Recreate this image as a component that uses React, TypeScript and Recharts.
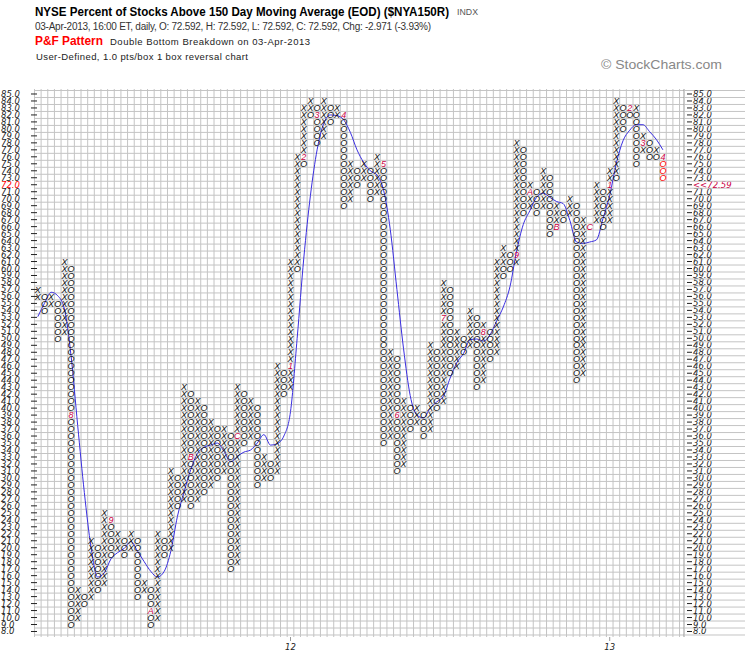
import React from "react";
import { ComposedChart, XAxis, YAxis, Scatter, Line, ReferenceLine } from "recharts";

// P&F runs: column index, X/O, low box, high box (a column can hold two runs)
const colIdx = [
  0, 1, 2, 3, 4, 5, 6, 7, 8, 9,
  10, 11, 12, 13, 14, 15, 16, 17, 18, 19,
  20, 21, 22, 23, 24, 25, 26, 27, 28, 29,
  30, 31, 32, 33, 34, 35, 36, 37, 38,
  39, 39, 40, 40, 41, 41,
  42, 43, 44, 45, 46, 47, 48, 49, 50, 51, 52, 53, 54, 55, 56, 57, 58, 59, 60, 61, 62, 63, 64, 65, 66, 67, 68, 69,
  70, 70,
  71, 72, 73, 74, 75, 76, 77, 78, 79, 80, 81, 82, 83, 84, 85, 86,
  87, 87, 88, 89, 90, 90, 91, 92, 93, 93, 94,
];
const colType = [
  "X", "O", "X", "O", "X", "O", "X", "O", "X", "O",
  "X", "O", "X", "O", "X", "O", "X", "O", "X", "O",
  "X", "O", "X", "O", "X", "O", "X", "O", "X", "O",
  "X", "O", "X", "O", "X", "O", "X", "O", "X",
  "O", "X", "O", "X", "O", "X",
  "O", "X", "O", "X", "O", "X", "O", "X", "O", "X", "O", "X", "O", "X", "O", "X", "O", "X", "O", "X", "O", "X", "O", "X", "O", "X", "O", "X",
  "O", "X",
  "O", "X", "O", "X", "O", "X", "O", "X", "O", "X", "O", "X", "O", "X", "O", "X",
  "O", "X", "O", "O", "X", "O", "X", "O", "X", "O", "O",
];
const colLo = [
  56, 54, 55, 50, 51, 9, 10, 12, 13, 14,
  15, 19, 20, 19, 20, 13, 14, 9, 10, 19,
  20, 26, 27, 26, 27, 28, 29, 30, 31, 17,
  18, 35, 36, 29, 30, 30, 31, 42, 43,
  60, 61, 75, 76, 82, 83,
  78, 79, 81, 82, 69, 70, 72, 73, 70, 71, 35, 36, 31, 32, 37, 38, 36, 37, 40, 41, 45, 46, 48, 49, 43, 44, 47, 48,
  59, 61,
  60, 61, 68, 69, 68, 69, 65, 66, 67, 68, 44, 45, 66, 67, 66, 67,
  73, 74, 80, 82, 83, 75, 77, 76, 77, 76, 73,
];
const colHi = [
  57, 56, 56, 55, 61, 60, 14, 13, 21, 20,
  25, 24, 22, 21, 22, 21, 15, 14, 22, 21,
  31, 30, 43, 42, 41, 40, 38, 37, 37, 36,
  43, 42, 41, 40, 33, 32, 46, 45, 61,
  60, 76, 75, 83, 82, 84,
  83, 84, 83, 83, 82, 75, 74, 75, 74, 76, 75, 48, 47, 41, 40, 40, 39, 49, 48, 58, 57, 51, 50, 54, 53, 52, 51, 61,
  60, 63,
  62, 78, 77, 72, 71, 74, 73, 69, 68, 70, 69, 67, 66, 72, 71, 74,
  73, 84, 83, 83, 83, 82, 79, 78, 77, 76, 76,
];

// month markers drawn in place of a box
const markCol = [5, 11, 17, 23, 30, 38, 40, 42, 46, 52, 54, 61, 67, 72, 74, 78, 83, 86, 89, 91, 94];
const markVal = [39, 24, 11, 33, 36, 46, 76, 82, 82, 75, 39, 53, 51, 62, 71, 66, 66, 72, 83, 78, 76];
const markText = ["8", "9", "A", "B", "C", "1", "2", "3", "4", "5", "6", "7", "8", "9", "A", "B", "C", "1", "2", "3", "4"];

// latest boxes (drawn red)
const lastCol = 94;
const lastVals = [73, 74, 75];

// moving average per column
const maVal = [
  53.1, 55.0, 56.6, 56.1, 54.2, 47.5, 37.5, 27.9, 20.1, 15.8,
  16.4, 18.4, 19.3, 19.9, 20.9, 19.5, 18.0, 16.6, 15.8, 16.6,
  19.5, 24.5, 28.0, 31.2, 33.5, 34.4, 34.7, 35.0, 33.8, 32.3,
  33.1, 33.7, 34.0, 35.0, 36.2, 34.7, 34.9, 36.0, 39.5, 50.0,
  61.5, 70.5, 77.0, 80.8, 82.0, 81.9, 81.3, 79.5, 77.0, 75.2,
  74.0, 73.4, 71.2, 65.6, 57.0, 48.5, 41.8, 39.0, 38.6, 40.0,
  40.9, 41.7, 44.3, 46.5, 47.8, 49.8, 49.9, 49.6, 50.5, 52.5,
  54.5, 57.4, 62.5, 66.3, 68.3, 70.2, 70.8, 70.2, 69.6, 69.3,
  66.9, 63.8, 63.6, 63.8, 64.1, 67.2, 70.5, 75.1, 78.3, 79.8,
  80.6, 80.6, 79.6, 78.5, 77.0,
];

const priceTicks = [
  8, 9, 10, 11, 12, 13, 14, 15, 16, 17, 18, 19, 20, 21, 22, 23, 24, 25, 26, 27,
  28, 29, 30, 31, 32, 33, 34, 35, 36, 37, 38, 39, 40, 41, 42, 43, 44, 45, 46, 47,
  48, 49, 50, 51, 52, 53, 54, 55, 56, 57, 58, 59, 60, 61, 62, 63, 64, 65, 66, 67,
  68, 69, 70, 71, 72, 73, 74, 75, 76, 77, 78, 79, 80, 81, 82, 83, 84, 85,
];
const currentTick = 72;
const currentLabel = "<<72.59";
const yearTicks = [38, 86];
const yearLabels = ["12", "13"];

const X_DOMAIN: [number, number] = [-0.571, 97.17];
const Y_DOMAIN: [number, number] = [7.212, 85.716];
const PLOT_R = 684;
const ROW_HALF = 3.49;
const GRID = "#c4c4c4";
const MARK = "#cc0044";
const GLYPH_FONT = "'Liberation Sans', Arial, sans-serif";
const AXIS_FONT = "'DejaVu Sans', Verdana, sans-serif";

const boxes: { c: number; v: number; ch: string; color: string }[] = [];
colIdx.forEach((c, i) => {
  for (let v = colLo[i]; v <= colHi[i]; v++) {
    const m = markCol.findIndex((mc, j) => mc === c && markVal[j] === v);
    const isLast = c === lastCol && lastVals.includes(v);
    boxes.push({
      c,
      v,
      ch: m >= 0 ? markText[m] : colType[i],
      color: m >= 0 ? MARK : isLast ? "#ff0000" : "#111",
    });
  }
});

const maRows = maVal.map((ma, c) => ({ c, ma }));

const vLines = Array.from({ length: 98 }, (_, i) => i - 0.5);
const hLines = Array.from({ length: 79 }, (_, i) => i + 7.5);

function Glyph(props: any) {
  const { cx, cy, payload } = props;
  if (cx == null || cy == null) return null;
  return (
    <text x={cx} y={cy + 3.2} textAnchor="middle" fontSize={9} fontStyle="italic" fontFamily={GLYPH_FONT} fill={payload.color}>
      {payload.ch}
    </text>
  );
}

function PriceTick(props: any) {
  const { y, payload } = props;
  const v = payload.value as number;
  const cur = v === currentTick;
  return (
    <g>
      <text x={1} y={y + 3} fontSize={8.5} fontStyle="italic" fontFamily={AXIS_FONT} fill={cur ? "#ff0000" : "#222"}>
        {v.toFixed(1)}
      </text>
      <line x1={31} x2={37} y1={y} y2={y} stroke="#222" />
      <line x1={PLOT_R} x2={745} y1={y + ROW_HALF} y2={y + ROW_HALF} stroke={GRID} />
      {v === 85 && <line x1={PLOT_R} x2={745} y1={y - ROW_HALF} y2={y - ROW_HALF} stroke={GRID} />}
      <line x1={PLOT_R + 3} x2={PLOT_R + 8} y1={y} y2={y} stroke="#222" />
      <text x={PLOT_R + 9} y={y + 3} fontSize={8.5} fontStyle="italic" fontFamily={AXIS_FONT} fill={cur ? MARK : "#222"}>
        {cur ? currentLabel : v.toFixed(1)}
      </text>
    </g>
  );
}

function YearTick(props: any) {
  const { x, payload } = props;
  const i = yearTicks.indexOf(payload.value);
  return (
    <g>
      <line x1={x} x2={x} y1={637} y2={641} stroke="#999" />
      <text x={x} y={650} textAnchor="middle" fontSize={8.5} fontStyle="italic" fontFamily={AXIS_FONT} fill="#222">
        {yearLabels[i]}
      </text>
    </g>
  );
}

export default function App() {
  return (
    <div style={{ position: "absolute", left: 0, top: 0, width: 745, height: 657, background: "#fff" }}>
      <ComposedChart width={745} height={657} data={maRows} margin={{ top: 89, right: 61, bottom: 0, left: 0 }}>
        <XAxis
          dataKey="c"
          type="number"
          domain={X_DOMAIN}
          allowDataOverflow
          ticks={yearTicks}
          interval={0}
          tick={<YearTick />}
          axisLine={false}
          tickLine={false}
          height={20}
        />
        <YAxis
          type="number"
          domain={Y_DOMAIN}
          allowDataOverflow
          ticks={priceTicks}
          interval={0}
          tick={<PriceTick />}
          axisLine={false}
          tickLine={false}
          width={34}
        />
        {hLines.map((v) => (
          <ReferenceLine key={"h" + v} y={v} stroke={GRID} strokeWidth={1} />
        ))}
        {vLines.map((c) => (
          <ReferenceLine key={"v" + c} x={c} stroke={GRID} strokeWidth={1} />
        ))}
        <ReferenceLine x={X_DOMAIN[1]} stroke="#999" strokeWidth={1} />
        <Scatter data={boxes} dataKey="v" shape={(p: any) => <Glyph {...p} />} isAnimationActive={false} />
        <Line dataKey="ma" type="monotone" stroke="#3a2ee0" strokeWidth={1} dot={false} activeDot={false} isAnimationActive={false} />
      </ComposedChart>
      <svg width={745} height={80} style={{ position: "absolute", left: 0, top: 0 }}>
        <text x={35} y={15.5} fontSize={12.5} fontWeight="bold" fontFamily="'Liberation Sans', Arial, sans-serif" fill="#000" textLength={414} lengthAdjust="spacingAndGlyphs">
          NYSE Percent of Stocks Above 150 Day Moving Average (EOD) ($NYA150R)
        </text>
        <text x={457} y={15} fontSize={9} fontFamily="'Liberation Sans', Arial, sans-serif" fill="#555" textLength={21} lengthAdjust="spacingAndGlyphs">
          INDX
        </text>
        <text x={35} y={29.5} fontSize={10} fontFamily="'Liberation Sans', Arial, sans-serif" fill="#333" textLength={396} lengthAdjust="spacing">
          03-Apr-2013, 16:00 ET, daily, O: 72.592, H: 72.592, L: 72.592, C: 72.592, Chg: -2.971 (-3.93%)
        </text>
        <text x={35} y={45} fontSize={13} fontWeight="bold" fontFamily="'Liberation Sans', Arial, sans-serif" fill="#ff0000" textLength={68} lengthAdjust="spacingAndGlyphs">
          P&amp;F Pattern
        </text>
        <text x={110} y={44.5} fontSize={9.5} fontFamily="'Liberation Sans', Arial, sans-serif" fill="#222" textLength={200} lengthAdjust="spacing">
          Double Bottom Breakdown on 03-Apr-2013
        </text>
        <text x={36} y={60} fontSize={9.5} fontFamily="'Liberation Sans', Arial, sans-serif" fill="#222" textLength={212} lengthAdjust="spacing">
          User-Defined, 1.0 pts/box 1 box reversal chart
        </text>
        <text x={601} y={69} fontSize={13} fontFamily="'Liberation Sans', Arial, sans-serif" fill="#888" textLength={121} lengthAdjust="spacingAndGlyphs">
          © StockCharts.com
        </text>
      </svg>
    </div>
  );
}
